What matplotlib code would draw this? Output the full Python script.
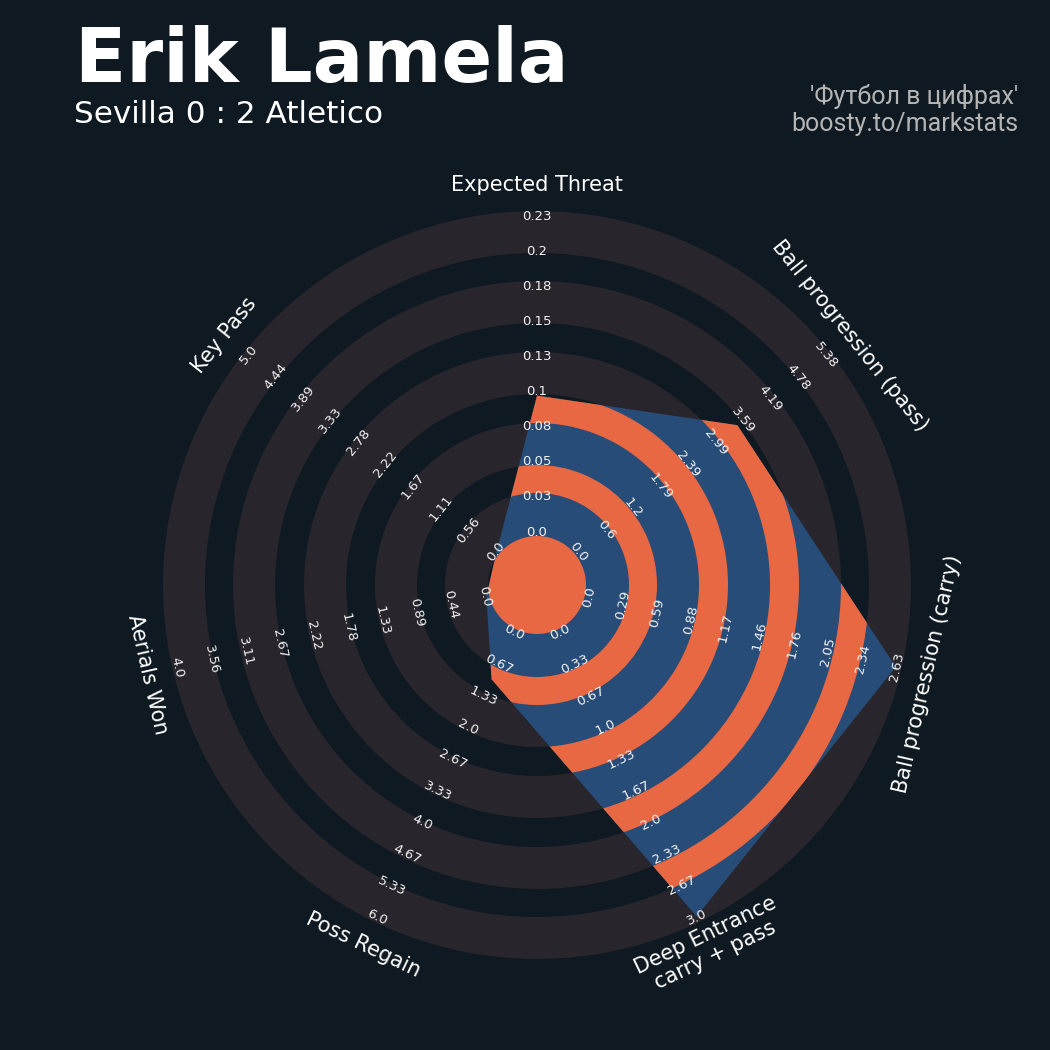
import numpy as np
import matplotlib.pyplot as plt
from matplotlib.patches import Circle, Wedge, Polygon

# radar data
params = ["Expected Threat", "Ball progression (pass)", "Ball progression (carry)",
          "Deep Entrance\ncarry + pass", "Poss Regain", "Aerials Won", "Key Pass"]
min_range = [0.0, 0.0, 0.0, 0.0, 0.0, 0.0, 0.0]
max_range = [0.23, 5.382, 2.6333, 3.0, 6.0, 4.0, 5.0]
values = [0.10, 3.48, 2.6333, 3.0, 1.0, 0.0, 0.0]

title = "Erik Lamela"
subtitle = "Sevilla 0 : 2 Atletico"
credit = ["'Футбол в цифрах'", "boosty.to/markstats"]

BG = "#0f1921"
RING = "#28252c"
ORANGE = "#e76842"
BLUE = "#274c77"

# ring edges (px from the centre): grey band, gap, grey band, ...
edges = [49, 92, 120, 162, 191, 233, 262, 304, 332, 374]
R_MIN, R_MAX = 52, 368
N_LABELS = 10
LABEL_R = np.linspace(53, 369, N_LABELS)

fig = plt.figure(figsize=(10.5, 10.5), dpi=100, facecolor=BG)
ax = fig.add_axes([0, 0, 1, 1])
ax.set_xlim(-537, 513)
ax.set_ylim(-465, 585)
ax.set_aspect("equal")
ax.axis("off")
ax.set_facecolor(BG)

for inner, outer in zip(edges[0::2], edges[1::2]):
    ax.add_patch(Wedge((0, 0), outer, 0, 360, width=outer - inner,
                       facecolor=RING, edgecolor="none", zorder=1))

n = len(params)
angles = np.deg2rad(90 - np.arange(n) * 360 / n)
frac = (np.array(values) - np.array(min_range)) / (np.array(max_range) - np.array(min_range))
radius = R_MIN + frac * (R_MAX - R_MIN)
verts = np.column_stack([radius * np.cos(angles), radius * np.sin(angles)])
poly = Polygon(verts, closed=True, facecolor=BLUE, edgecolor="none", zorder=2)
ax.add_patch(poly)

centre = Circle((0, 0), edges[0], facecolor=ORANGE, edgecolor="none", zorder=3)
ax.add_patch(centre)
centre.set_clip_path(poly)
for inner, outer in zip(edges[1::2], edges[2::2]):
    w = Wedge((0, 0), outer, 0, 360, width=outer - inner,
              facecolor=ORANGE, edgecolor="none", zorder=3)
    ax.add_patch(w)
    w.set_clip_path(poly)


def text_rotation(theta):
    rot = np.rad2deg(theta) - 90
    if np.sin(theta) < -1e-9:
        rot += 180
    return rot


for i, theta in enumerate(angles):
    rot = text_rotation(theta)
    ticks = np.linspace(min_range[i], max_range[i], N_LABELS)
    for r, t in zip(LABEL_R, ticks):
        ax.text(r * np.cos(theta), r * np.sin(theta), str(round(float(t), 2)),
                ha="center", va="center", rotation=rot, rotation_mode="anchor",
                fontsize=9.5, color="#f2f2f2", zorder=5)
    ax.text(400 * np.cos(theta), 400 * np.sin(theta), params[i],
            ha="center", va="center", rotation=rot, rotation_mode="anchor",
            fontsize=15, color="white", zorder=5, linespacing=1.1)

fig.text(75 / 1050, 1 - 82 / 1050, title, fontsize=54, fontweight="bold",
         color="white", ha="left", va="baseline")
fig.text(74 / 1050, 1 - 123 / 1050, subtitle, fontsize=22.4,
         color="white", ha="left", va="baseline")
fig.text(1018 / 1050, 1 - 104 / 1050, credit[0], fontsize=18, family="Roboto",
         color="#b5b5b5", ha="right", va="baseline")
fig.text(1018 / 1050, 1 - 131 / 1050, credit[1], fontsize=18, family="Roboto",
         color="#b5b5b5", ha="right", va="baseline")

fig.savefig("out.png", dpi=100, facecolor=BG)
